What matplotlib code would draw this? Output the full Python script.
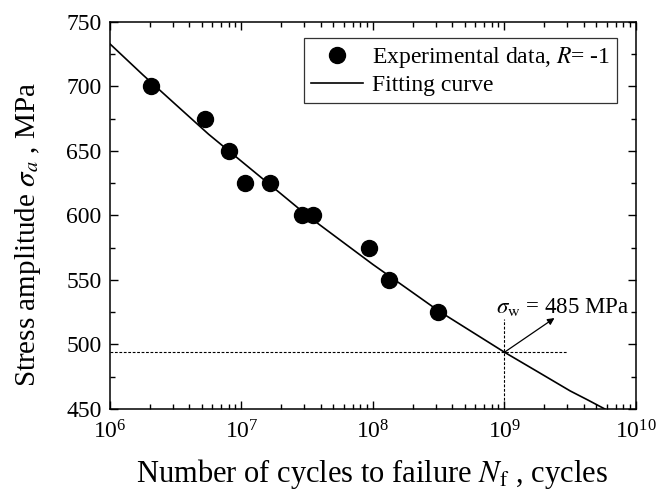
import matplotlib
matplotlib.use("Agg")
import matplotlib.pyplot as plt
from matplotlib.ticker import LogLocator, MultipleLocator, NullFormatter

plt.rcParams['font.family'] = ['Liberation Serif', 'DejaVu Serif']
plt.rcParams['mathtext.fontset'] = 'stix'

# experimental S-N data (R = -1)
cycles = [2.05e6, 5.3e6, 8.0e6, 1.06e7, 1.65e7, 2.9e7, 3.5e7, 9.3e7, 1.32e8, 3.1e8]
stress = [700, 675, 650, 625, 625, 600, 600, 575, 550, 525]

# fitting curve
fit_cycles = [1e6, 1.78e6, 3.16e6, 5.62e6, 1e7, 1.78e7, 3.16e7, 5.62e7, 1e8,
              1.78e8, 3.16e8, 5.62e8, 1e9, 1.78e9, 3.16e9, 4.3e9, 5.8e9]
fit_stress = [733, 709, 686, 663, 642, 621, 600, 581, 562,
              544, 526, 510, 494, 479, 464, 457, 450]

# fatigue strength marker
sigma_w = 494
n_w = 1e9

fig = plt.figure(figsize=(6.57, 4.93), dpi=100)
ax = fig.add_axes([0.1674, 0.1704, 0.8006, 0.785])

ax.plot(cycles, stress, 'o', color='black', markersize=11.5,
        label=r'Experimental data, $R$= -1')
ax.plot(fit_cycles, fit_stress, '-', color='black', lw=1.2, label='Fitting curve')

# dotted guide lines
ax.plot([1e6, 3e9], [sigma_w, sigma_w], ls=(0, (2.5, 1.5)), color='black', lw=0.8)
ax.plot([n_w, n_w], [450, 520], ls=(0, (2.5, 1.5)), color='black', lw=0.8)
ax.annotate('', xy=(2.4e9, 520.5), xytext=(n_w, sigma_w),
            arrowprops=dict(arrowstyle='-|>', color='black', lw=0.9,
                            mutation_scale=10, shrinkA=0, shrinkB=0))
ax.text(8.6e8, 524.5, r'$\sigma_{\rm w}$ = 485 MPa', fontsize=16.5,
        ha='left', va='baseline')

ax.set_xscale('log')
ax.set_xlim(1e6, 1e10)
ax.set_ylim(450, 750)
ax.xaxis.set_major_locator(LogLocator(base=10, numticks=10))
ax.xaxis.set_minor_locator(LogLocator(base=10, subs=range(2, 10), numticks=10))
ax.xaxis.set_minor_formatter(NullFormatter())
ax.yaxis.set_major_locator(MultipleLocator(50))
ax.yaxis.set_minor_locator(MultipleLocator(25))

ax.tick_params(which='both', direction='in', top=True, right=True, labelsize=17,
               width=1)
ax.tick_params(which='major', length=6)
ax.tick_params(which='minor', length=3.5)
ax.tick_params(axis='x', pad=8)
ax.tick_params(axis='y', pad=6)
for s in ax.spines.values():
    s.set_linewidth(1.1)

ax.set_xlabel(r'Number of cycles to failure $N_{\rm f}$ , cycles', fontsize=22)
ax.set_ylabel(r'Stress amplitude $\sigma_a$ , MPa', fontsize=21)
ax.xaxis.set_label_coords(0.498, -0.125)
ax.yaxis.set_label_coords(-0.128, 0.45)

leg = ax.legend(loc='upper right', fontsize=17, frameon=True, fancybox=False,
                edgecolor='black', handlelength=2.2, handletextpad=0.35,
                borderpad=0.3, labelspacing=0.2, borderaxespad=0,
                bbox_to_anchor=(0.964, 0.959))
leg.get_frame().set_linewidth(0.9)

fig.savefig('out.png', dpi=100)
